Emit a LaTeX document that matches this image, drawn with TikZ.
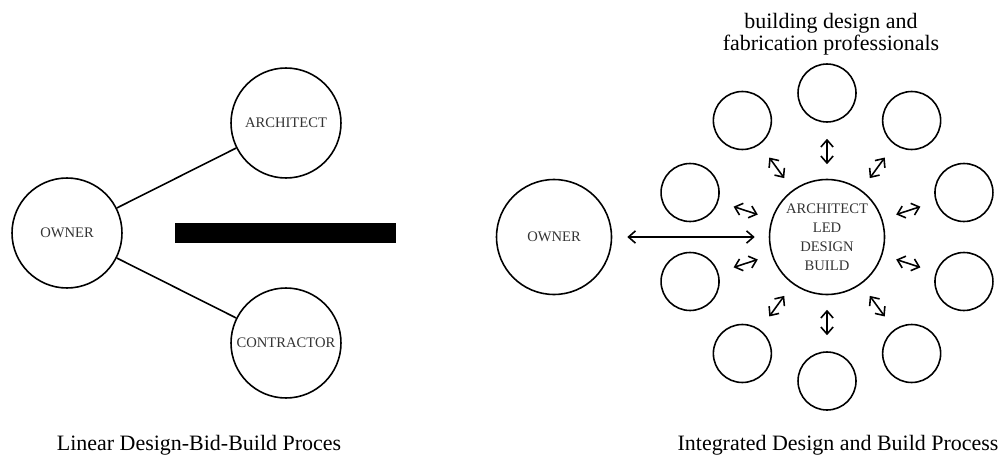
\documentclass[tikz,border=0pt]{standalone}
\usepackage{fontspec}
\setmainfont{Liberation Serif}
\usetikzlibrary{arrows.meta,calc}

\begin{document}
\begin{tikzpicture}[x=0.02cm, y=-0.02cm, line width=0.9pt,
  every node/.style={font=\fontsize{12.5}{12.7}\selectfont},
  party/.style={draw,circle,minimum size=2.2cm,inner sep=0pt,text=black!80,font=\fontsize{8.3}{10.8}\selectfont},
  pro/.style={draw,circle,minimum size=1.16cm,inner sep=0pt},
  link/.style={<->,>={Straight Barb[length=4pt,width=7pt]},shorten <=0.29cm,shorten >=0.32cm}]
\useasboundingbox (0,0) rectangle (1003,456);
% linear process
\node[party] (own1) at (67,233) {OWNER};
\node[party] (arch) at (286,123) {ARCHITECT};
\node[party] (cont) at (286,343) {CONTRACTOR};
\draw (own1)--(arch); \draw (own1)--(cont);
\fill (175,223) rectangle (396,243);
\node (cap1) at (199,445) {Linear Design-Bid-Build Proces};
% integrated process
\node[party,minimum size=2.3cm] (own2) at (554,237) {OWNER};
\node[party,minimum size=2.3cm,align=center] (lead) at (827,237) {ARCHITECT\\LED\\DESIGN\\BUILD};
\draw[link,shorten <=0.3cm,shorten >=0.28cm] (own2)--(lead);
\foreach \a [count=\i] in {18,54,...,342} {
  \node[pro] (p\i) at ($(lead)+(\a:144)$) {};
  \draw[link] (lead)--(p\i);
}
\node[align=center] (hdr) at (831,34) {building design and\\fabrication professionals};
\node (cap2) at (838,445) {Integrated Design and Build Process};
\end{tikzpicture}
\end{document}
